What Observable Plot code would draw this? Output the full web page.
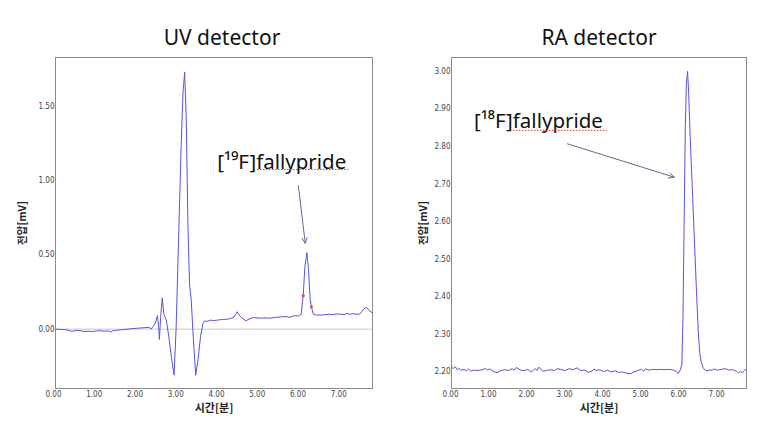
<!DOCTYPE html>
<html><head><meta charset="utf-8">
<script src="https://cdn.jsdelivr.net/npm/d3@7"></script>
<script src="https://cdn.jsdelivr.net/npm/@observablehq/plot@0.6"></script>
<style>
body{margin:0;background:#fff;}
#wrap{position:relative;width:781px;height:446px;overflow:hidden;background:#fff;}
.title{position:absolute;top:23px;font:21px "Noto Sans",sans-serif;color:#111;transform:translateX(-50%);white-space:nowrap;}
.panel{position:absolute;top:0;}
</style></head><body>
<div id="wrap">
  <div class="title" style="left:222px">UV detector</div>
  <div class="title" style="left:599px">RA detector</div>
  <div class="panel" id="left" style="left:0px"></div>
  <div class="panel" id="right" style="left:390px"></div>
</div>
<script>
// ---- UV detector trace ----
const uvTime = [0.00,0.10,0.20,0.30,0.40,0.45,0.50,0.60,0.70,0.80,0.90,1.00,1.10,1.20,1.30,1.35,1.40,1.50,1.60,1.70,1.80,1.90,2.00,2.10,2.20,2.30,2.35,2.38,2.45,2.50,2.53,2.55,2.58,2.62,2.66,2.72,2.78,2.85,2.91,2.96,3.02,3.08,3.13,3.17,3.21,3.25,3.29,3.33,3.38,3.44,3.50,3.56,3.62,3.66,3.72,3.80,3.90,4.00,4.10,4.20,4.30,4.38,4.46,4.52,4.60,4.67,4.75,4.85,4.95,5.05,5.15,5.25,5.35,5.45,5.55,5.65,5.75,5.85,5.95,6.03,6.06,6.08,6.12,6.17,6.21,6.25,6.28,6.33,6.40,6.50,6.60,6.70,6.80,6.90,7.00,7.10,7.15,7.20,7.30,7.40,7.47,7.55,7.62,7.68,7.74,7.78];
const uvVolt = [0.000,-0.002,-0.003,-0.006,-0.015,-0.012,-0.008,-0.010,-0.016,-0.014,-0.017,-0.012,-0.010,-0.014,-0.012,-0.020,-0.011,-0.008,-0.004,-0.003,0.001,0.004,0.006,0.008,0.010,0.012,0.000,0.012,0.040,0.090,0.020,-0.070,0.080,0.210,0.100,0.060,-0.050,-0.200,-0.310,0.000,0.600,1.200,1.600,1.730,1.400,0.700,0.300,0.200,-0.050,-0.310,-0.200,-0.050,0.040,0.055,0.052,0.060,0.058,0.062,0.065,0.066,0.072,0.080,0.117,0.090,0.070,0.056,0.068,0.078,0.076,0.074,0.076,0.073,0.078,0.080,0.083,0.085,0.080,0.090,0.088,0.100,0.180,0.225,0.420,0.515,0.400,0.200,0.150,0.100,0.095,0.095,0.097,0.100,0.098,0.103,0.100,0.098,0.108,0.100,0.104,0.100,0.102,0.130,0.146,0.135,0.115,0.110];
const uvMarkTime = [6.08, 6.28];
const uvMarkVolt = [0.225, 0.150];
const uvXTicks = [0,1,2,3,4,5,6,7];
const uvYTicks = [0,0.5,1.0,1.5];

// ---- RA detector trace ----
const raTime = [0.00,0.05,0.10,0.15,0.20,0.25,0.30,0.40,0.45,0.50,0.60,0.70,0.80,0.90,0.95,1.00,1.10,1.20,1.30,1.40,1.50,1.60,1.65,1.70,1.80,1.90,2.00,2.10,2.20,2.25,2.30,2.40,2.50,2.60,2.70,2.80,2.90,3.00,3.10,3.20,3.30,3.40,3.50,3.60,3.70,3.75,3.80,3.90,4.00,4.10,4.20,4.30,4.40,4.50,4.60,4.70,4.80,4.90,5.00,5.05,5.10,5.20,5.30,5.40,5.50,5.60,5.70,5.80,5.90,5.97,6.02,6.06,6.09,6.12,6.15,6.18,6.21,6.24,6.28,6.33,6.37,6.41,6.45,6.49,6.53,6.57,6.62,6.68,6.75,6.80,6.85,6.90,7.00,7.10,7.20,7.30,7.40,7.50,7.55,7.60,7.65,7.70,7.76];
const raVolt = [2.212,2.208,2.213,2.205,2.209,2.203,2.206,2.203,2.207,2.202,2.204,2.203,2.205,2.208,2.204,2.207,2.201,2.197,2.203,2.205,2.203,2.208,2.204,2.211,2.205,2.202,2.206,2.199,2.208,2.203,2.212,2.201,2.203,2.205,2.203,2.208,2.205,2.203,2.208,2.205,2.210,2.203,2.204,2.198,2.202,2.207,2.203,2.205,2.200,2.204,2.199,2.202,2.198,2.199,2.196,2.194,2.199,2.203,2.206,2.201,2.207,2.204,2.206,2.205,2.206,2.205,2.206,2.205,2.201,2.195,2.205,2.220,2.350,2.600,2.850,2.970,3.000,2.940,2.820,2.700,2.600,2.500,2.400,2.310,2.250,2.225,2.210,2.203,2.202,2.205,2.203,2.207,2.204,2.206,2.208,2.204,2.205,2.201,2.196,2.201,2.197,2.203,2.206];
const raXTicks = [0,1,2,3,4,5,6,7];
const raYTicks = [2.2,2.3,2.4,2.5,2.6,2.7,2.8,2.9,3.0];

// ---- labels / annotations ----
const xLabel = "시간[분]";
const yLabel = "전압[mV]";
const uvNote = {text: "[¹⁹F]fallypride", x: 3.97, y: 1.124, ax1: 5.96, ay1: 0.967, ax2: 6.13, ay2: 0.578, ux1: 4.96, ux2: 7.2, uy: 1.075};
const raNote = {text: "[¹⁸F]fallypride", x: 0.59, y: 2.867, ax1: 3.05, ay1: 2.807, ax2: 5.86, ay2: 2.718, ux1: 1.63, ux2: 4.10, uy: 2.843};

const lineColor = "#5555dd";
const fmt = d => d.toFixed(2);
const tickFont = "'DejaVu Sans Condensed','Liberation Sans Narrow',sans-serif";
const cjk = "'Noto Sans CJK KR',sans-serif";

function panel(opts) {
  const data = opts.time.map((t, i) => ({t, v: opts.volt[i]}));
  const n = opts.note;
  const marks = [
    Plot.frame({stroke: "#8a8a8a"}),
    ...(opts.zero ? [Plot.ruleY([0], {stroke: "#c8c8c8"})] : []),
    Plot.axisX({ticks: opts.xTicks, tickFormat: fmt, tickSize: 0, tickPadding: 3, dx: opts.xTickDx, label: null, fontFamily: tickFont, fontSize: 8, fill: "#444"}),
    Plot.axisY({ticks: opts.yTicks, tickFormat: fmt, tickSize: 0, tickPadding: 1, label: null, fontFamily: tickFont, fontSize: 8, fill: "#444"}),
    Plot.line(data, {x: "t", y: "v", stroke: lineColor, strokeWidth: 1}),
    ...(opts.markT ? [Plot.dot(opts.markT.map((t, i) => ({t, v: opts.markV[i]})), {x: "t", y: "v", r: 1.6, fill: "#e04848", stroke: null})] : []),
    Plot.text([n], {x: "x", y: "y", text: "text", textAnchor: "start", fontSize: 20.5, fontFamily: "'Noto Sans',sans-serif", fill: "#111"}),
    Plot.ruleY([n], {y: "uy", x1: "ux1", x2: "ux2", stroke: "#e03030", strokeDasharray: "1.5,1.5", strokeWidth: 1}),
    Plot.arrow([n], {x1: "ax1", y1: "ay1", x2: "ax2", y2: "ay2", stroke: "#5a7090", strokeWidth: 1, headLength: 9, headAngle: 50}),
    Plot.text([yLabel], {frameAnchor: "left", dx: opts.yLabelDx, rotate: -90, textAnchor: "middle", lineAnchor: "middle", fontSize: 10.5, fontWeight: "bold", fontFamily: cjk, fill: "#222"}),
    Plot.text([xLabel], {frameAnchor: "bottom", dy: 20, textAnchor: "middle", lineAnchor: "middle", fontSize: 11, fontWeight: "bold", fontFamily: cjk, fill: "#222"})
  ];
  return Plot.plot({
    width: opts.width, height: 446,
    marginLeft: opts.ml, marginRight: opts.mr, marginTop: 57, marginBottom: 58,
    style: {background: "transparent", overflow: "visible"},
    x: {domain: opts.xDomain},
    y: {domain: opts.yDomain},
    marks
  });
}

document.getElementById("left").appendChild(panel({
  width: 390, ml: 55, mr: 18, time: uvTime, volt: uvVolt, xDomain: [0, 7.78], yDomain: [-0.40, 1.83],
  xTicks: uvXTicks, yTicks: uvYTicks, zero: true, markT: uvMarkTime, markV: uvMarkVolt, note: uvNote, yLabelDx: -33, xTickDx: -2
}));
document.getElementById("right").appendChild(panel({
  width: 391, ml: 61, mr: 35, time: raTime, volt: raVolt, xDomain: [0, 7.76], yDomain: [2.155, 3.037],
  xTicks: raXTicks, yTicks: raYTicks, zero: false, note: raNote, yLabelDx: -28, xTickDx: -1
}));
</script>
</body></html>
